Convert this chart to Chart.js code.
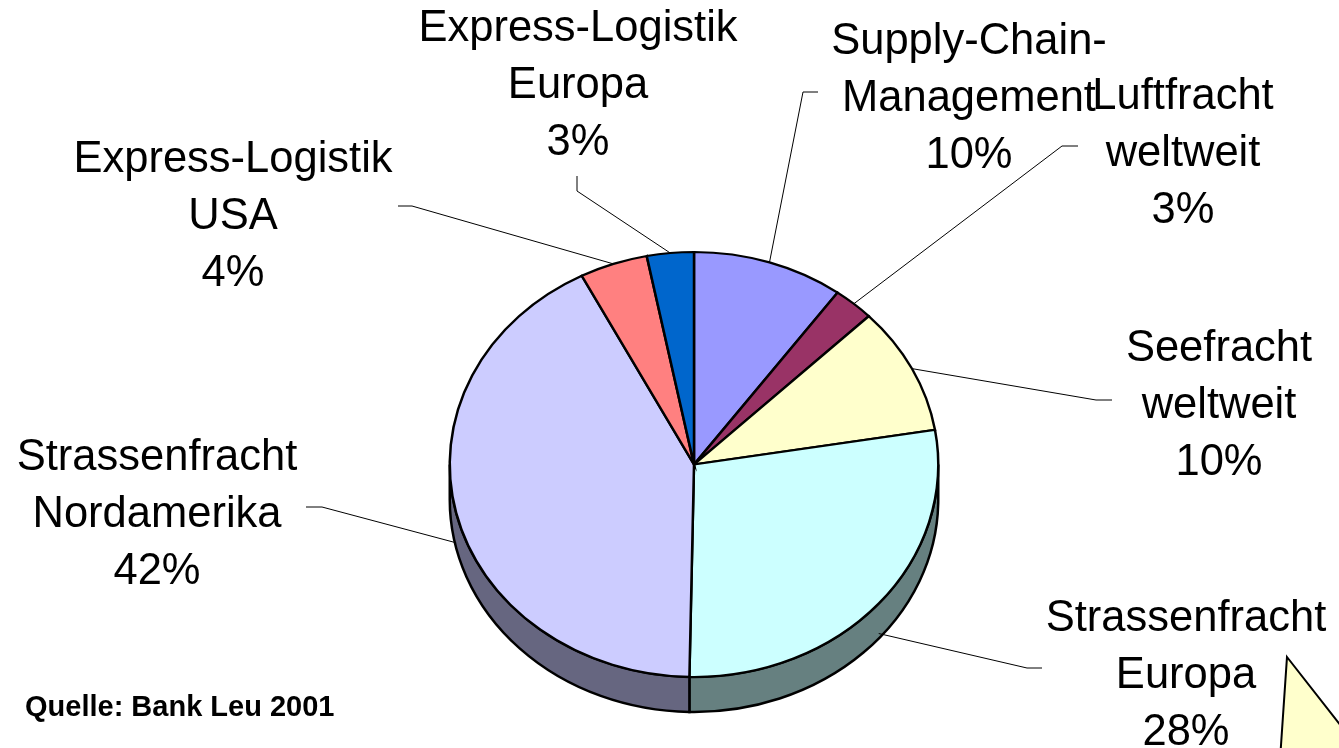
<!DOCTYPE html>
<html lang="de">

<head>
   <meta charset="UTF-8">
   <title>Umsatz nach Bereichen</title>
   <script src="https://cdn.jsdelivr.net/npm/chart.js@4"></script>
   <style>
      html, body { margin: 0; padding: 0; background: #fff; overflow: hidden; }
      canvas { display: block; }
   </style>
</head>

<body>
   <canvas id="myChart" width="1339" height="748"></canvas>
   <script>
      const categories = ['Supply-Chain-Management', 'Luftfracht weltweit', 'Seefracht weltweit', 'Strassenfracht Europa', 'Strassenfracht Nordamerika', 'Express-Logistik USA', 'Express-Logistik Europa'];
      const shares = [10, 2.7, 9.7, 27.9, 42.1, 4.5, 3.1];
      const percentLabels = ['10%', '3%', '10%', '28%', '42%', '4%', '3%'];
      const labelLines = [['Supply-Chain-', 'Management'], ['Luftfracht', 'weltweit'], ['Seefracht', 'weltweit'], ['Strassenfracht', 'Europa'], ['Strassenfracht', 'Nordamerika'], ['Express-Logistik', 'USA'], ['Express-Logistik', 'Europa']];
      const sourceNote = 'Quelle: Bank Leu 2001';

      const topColors = ['#9999FF', '#993366', '#FFFFCC', '#CCFFFF', '#CCCCFF', '#FF8080', '#0066CC'];
      const sideColors = ['#4D4D80', '#4D1A33', '#808066', '#668080', '#666680', '#804040', '#003366'];

      // where each label sits: centre x, first baseline, then the two leader bends
      const labelSpots = [
         { x: 969, y: 54, bends: [[803, 92], [818, 92]] },
         { x: 1183, y: 109, bends: [[1062, 146], [1078, 146]] },
         { x: 1219, y: 361, bends: [[1096, 400], [1112, 400]] },
         { x: 1186, y: 631, bends: [[1027, 668], [1042, 668]] },
         { x: 157, y: 470, bends: [[322, 507], [306, 507]] },
         { x: 233, y: 172, bends: [[412, 206], [398, 206]] },
         { x: 578, y: 41, bends: [[577, 191], [577, 176]] }
      ];

      const squash = 0.87;
      const depth = 35;
      const lineStep = 57;

      function squashAround(ctx, arc) {
         ctx.translate(arc.x, arc.y);
         ctx.scale(1, squash);
         ctx.translate(-arc.x, -arc.y);
      }

      const piePlugin = {
         id: 'pie3d',
         beforeDatasetsDraw(chart) {
            const ctx = chart.ctx;
            const arcs = chart.getDatasetMeta(0).data;
            // side wall, only the part of each slice on the lower half
            arcs.forEach((arc, i) => {
               const start = Math.max(arc.startAngle, 0);
               const end = Math.min(arc.endAngle, Math.PI);
               if (end <= start) return;
               ctx.save();
               squashAround(ctx, arc);
               ctx.beginPath();
               ctx.arc(arc.x, arc.y, arc.outerRadius, start, end);
               ctx.arc(arc.x, arc.y + depth / squash, arc.outerRadius, end, start, true);
               ctx.closePath();
               ctx.restore();
               ctx.fillStyle = sideColors[i];
               ctx.fill();
               ctx.strokeStyle = '#000';
               ctx.lineWidth = 2.5;
               ctx.stroke();
            });
            ctx.save();
            squashAround(ctx, arcs[0]);
         },
         afterDatasetsDraw(chart) {
            const ctx = chart.ctx;
            ctx.restore();
            const arcs = chart.getDatasetMeta(0).data;

            // leader lines start on the rim of the slice, or on the wall below it
            ctx.strokeStyle = '#000';
            ctx.lineWidth = 1;
            arcs.forEach((arc, i) => {
               const mid = (arc.startAngle + arc.endAngle) / 2;
               const sx = arc.x + arc.outerRadius * Math.cos(mid);
               let sy = arc.y + arc.outerRadius * squash * Math.sin(mid);
               if (Math.sin(mid) > 0) sy += depth - 5;
               ctx.beginPath();
               ctx.moveTo(sx, sy);
               labelSpots[i].bends.forEach(p => ctx.lineTo(p[0], p[1]));
               ctx.stroke();
            });

            ctx.fillStyle = '#000';
            ctx.textAlign = 'center';
            ctx.textBaseline = 'alphabetic';
            ctx.font = '43.5px "Liberation Sans", Arial, sans-serif';
            categories.forEach((name, i) => {
               const spot = labelSpots[i];
               const lines = labelLines[i].concat(percentLabels[i]);
               lines.forEach((text, k) => ctx.fillText(text, spot.x, spot.y + k * lineStep));
            });

            ctx.textAlign = 'left';
            ctx.font = 'bold 29px "Liberation Sans", Arial, sans-serif';
            ctx.fillText(sourceNote, 25, 716);

            // piece of a callout shape cut off by the page corner
            ctx.beginPath();
            ctx.moveTo(1287, 657);
            ctx.lineTo(1345, 731);
            ctx.lineTo(1345, 760);
            ctx.lineTo(1280, 760);
            ctx.closePath();
            ctx.fillStyle = '#FFFFCC';
            ctx.fill();
            ctx.strokeStyle = '#000';
            ctx.lineWidth = 2;
            ctx.stroke();
         }
      };

      new Chart(document.getElementById('myChart').getContext('2d'), {
         type: 'pie',
         data: {
            labels: categories,
            datasets: [{
               data: shares,
               backgroundColor: topColors,
               borderColor: '#000',
               borderWidth: 2.5,
               borderJoinStyle: 'miter'
            }]
         },
         options: {
            responsive: false,
            animation: false,
            events: [],
            layout: { padding: { left: 448, right: 399, top: 219, bottom: 38 } },
            plugins: { legend: { display: false }, tooltip: { enabled: false } }
         },
         plugins: [piePlugin]
      });
   </script>
</body>

</html>
